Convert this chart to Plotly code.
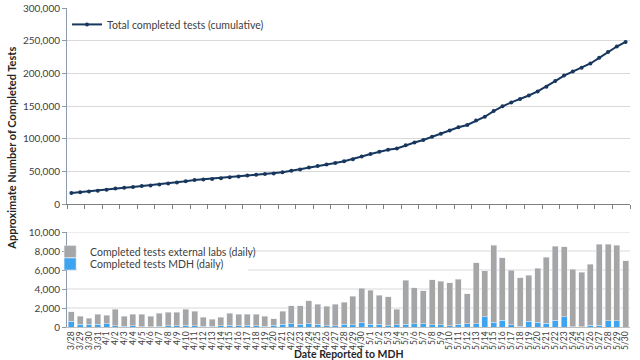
import plotly.graph_objects as go

dates = ["3/28", "3/29", "3/30", "3/31"] + [f"4/{d}" for d in range(1, 31)] + [f"5/{d}" for d in range(1, 31)]

cumulative = [17000, 18150, 19090, 20450, 21670, 23550, 24700, 26030, 27360, 28480,
              29950, 31490, 33060, 34910, 36590, 37600, 38400, 39410, 40840, 42200,
              43530, 44860, 45980, 46850, 48530, 50760, 52990, 55780, 58180, 60380,
              62780, 65400, 68650, 72730, 76600, 79920, 83130, 84980, 89900, 94050,
              97890, 102880, 107700, 112380, 117410, 120930, 127670, 133570, 142190, 149490,
              155460, 160660, 166100, 172280, 179640, 188160, 196610, 202680, 208470, 215100,
              223790, 232480, 241070, 248050]

mdh_daily = [600, 280, 300, 300, 350, 150, 100, 150, 50, 50,
             100, 150, 150, 200, 150, 100, 80, 150, 200, 150,
             200, 150, 100, 200, 300, 350, 300, 350, 300, 150,
             150, 300, 250, 450, 300, 300, 150, 250, 300, 350,
             350, 250, 250, 150, 300, 350, 350, 1080, 520, 730,
             250, 100, 630, 520, 380, 730, 1080, 50, 50, 200,
             200, 660, 660, 0]

external_daily = [1000, 870, 640, 1060, 870, 1730, 1050, 1180, 1280, 1070,
                  1370, 1390, 1420, 1650, 1530, 910, 720, 860, 1230, 1210,
                  1130, 1180, 1020, 670, 1380, 1880, 1930, 2440, 2100, 2050,
                  2250, 2320, 3000, 3630, 3570, 3020, 3060, 1600, 4620, 3800,
                  3490, 4740, 4570, 4530, 4730, 3170, 6390, 4820, 8100, 6570,
                  5720, 5100, 4810, 5660, 6980, 7790, 7370, 6020, 5740, 6430,
                  8490, 8030, 7930, 6980]

lower_grid_values = [2000, 4000, 6000, 8000, 10000]
legend_covered_values = [6000, 8000]

font_family = "Lato, 'Open Sans', Arial, sans-serif"
axis_color = "#8c9bab"
grid_color = "#d9d9d9"

fig = go.Figure()

fig.add_trace(go.Scatter(
    x=dates, y=cumulative, mode="lines+markers",
    name="Total completed tests (cumulative)",
    line=dict(color="#17375e", width=2),
    marker=dict(color="#17375e", size=4),
    xaxis="x", yaxis="y", legend="legend",
))

fig.add_trace(go.Bar(
    x=dates, y=mdh_daily, name="Completed tests MDH (daily)",
    marker=dict(color="#3fa4f0"), xaxis="x2", yaxis="y2", legend="legend3",
))
fig.add_trace(go.Bar(
    x=dates, y=external_daily, name="Completed tests external labs (daily)",
    marker=dict(color="#a6a6a6"), xaxis="x2", yaxis="y2", legend="legend2",
))

top_dom = [(327 - 204) / 319, 1.0]
bot_dom = [0.0, (327 - 232) / 319]

legend_font = dict(size=10.5, color="#404040")

fig.update_layout(
    width=640, height=360,
    margin=dict(l=67, r=10, t=8, b=33, autoexpand=False),
    paper_bgcolor="white", plot_bgcolor="white",
    barmode="stack", bargap=0.32,
    font=dict(family=font_family, size=10, color="#404040"),
    xaxis=dict(domain=[0, 1], anchor="y", type="category", range=[-0.5, 63.5],
               showticklabels=False, showline=True, linecolor="#7f7f7f", linewidth=1,
               ticks="outside", tickson="boundaries", ticklen=4, tickcolor="#7f7f7f",
               showgrid=False, automargin=False),
    yaxis=dict(domain=top_dom, anchor="x", range=[0, 300000], dtick=50000,
               tickformat=",", showline=True, linecolor=axis_color, linewidth=1,
               ticks="outside", ticklen=4, tickcolor=axis_color,
               showgrid=True, gridcolor=grid_color, zeroline=False, automargin=False),
    xaxis2=dict(domain=[0, 1], anchor="y2", type="category", range=[-0.5, 63.5],
                tickmode="array", tickvals=dates, ticktext=dates,
                tickangle=-90, tickfont=dict(size=8.5), showline=True,
                linecolor="#bfbfbf", linewidth=1, ticks="", showgrid=False,
                automargin=False),
    yaxis2=dict(domain=bot_dom, anchor="x2", range=[0, 10000], dtick=2000,
                tickformat=",", showline=True, linecolor=axis_color, linewidth=1,
                ticks="outside", ticklen=4, tickcolor=axis_color,
                showgrid=False, zeroline=False, automargin=False),
    legend=dict(x=0.0, y=0.994, xanchor="left", yanchor="top",
                bgcolor="rgba(0,0,0,0)", font=legend_font, itemwidth=30),
    legend2=dict(x=-0.030, y=0.282, xanchor="left", yanchor="top",
                 bgcolor="rgba(0,0,0,0)", font=legend_font, itemwidth=30),
    legend3=dict(x=-0.030, y=0.243, xanchor="left", yanchor="top",
                 bgcolor="rgba(0,0,0,0)", font=legend_font, itemwidth=30),
    showlegend=True,
)

# lower-panel gridlines, interrupted where the legend sits (as in the original)
gap_x0 = (77 - 67) / 563
gap_x1 = (248 - 67) / 563
for v in lower_grid_values:
    if v in legend_covered_values:
        segs = [(0, gap_x0), (gap_x1, 1)]
    else:
        segs = [(0, 1)]
    for a, b in segs:
        fig.add_shape(type="line", xref="x2 domain", yref="y2",
                      x0=a, x1=b, y0=v, y1=v,
                      line=dict(color=grid_color, width=1), layer="below")

fig.add_annotation(text="<b>Approximate Number of Completed Tests</b>",
                   xref="paper", yref="paper", x=-0.1, xanchor="center",
                   y=(327 - 148) / 319, yanchor="middle", textangle=-90,
                   showarrow=False, font=dict(size=11, color="#262626"))
fig.add_annotation(text="<b>Date Reported to MDH</b>",
                   xref="paper", yref="paper", x=(348 - 67) / 563, xanchor="center",
                   y=-(354 - 327) / 319, yanchor="middle",
                   showarrow=False, font=dict(size=10.5, color="#262626"))

fig.write_html("out.html", config={"displayModeBar": False},
               post_script="document.body.style.margin='0px';")
